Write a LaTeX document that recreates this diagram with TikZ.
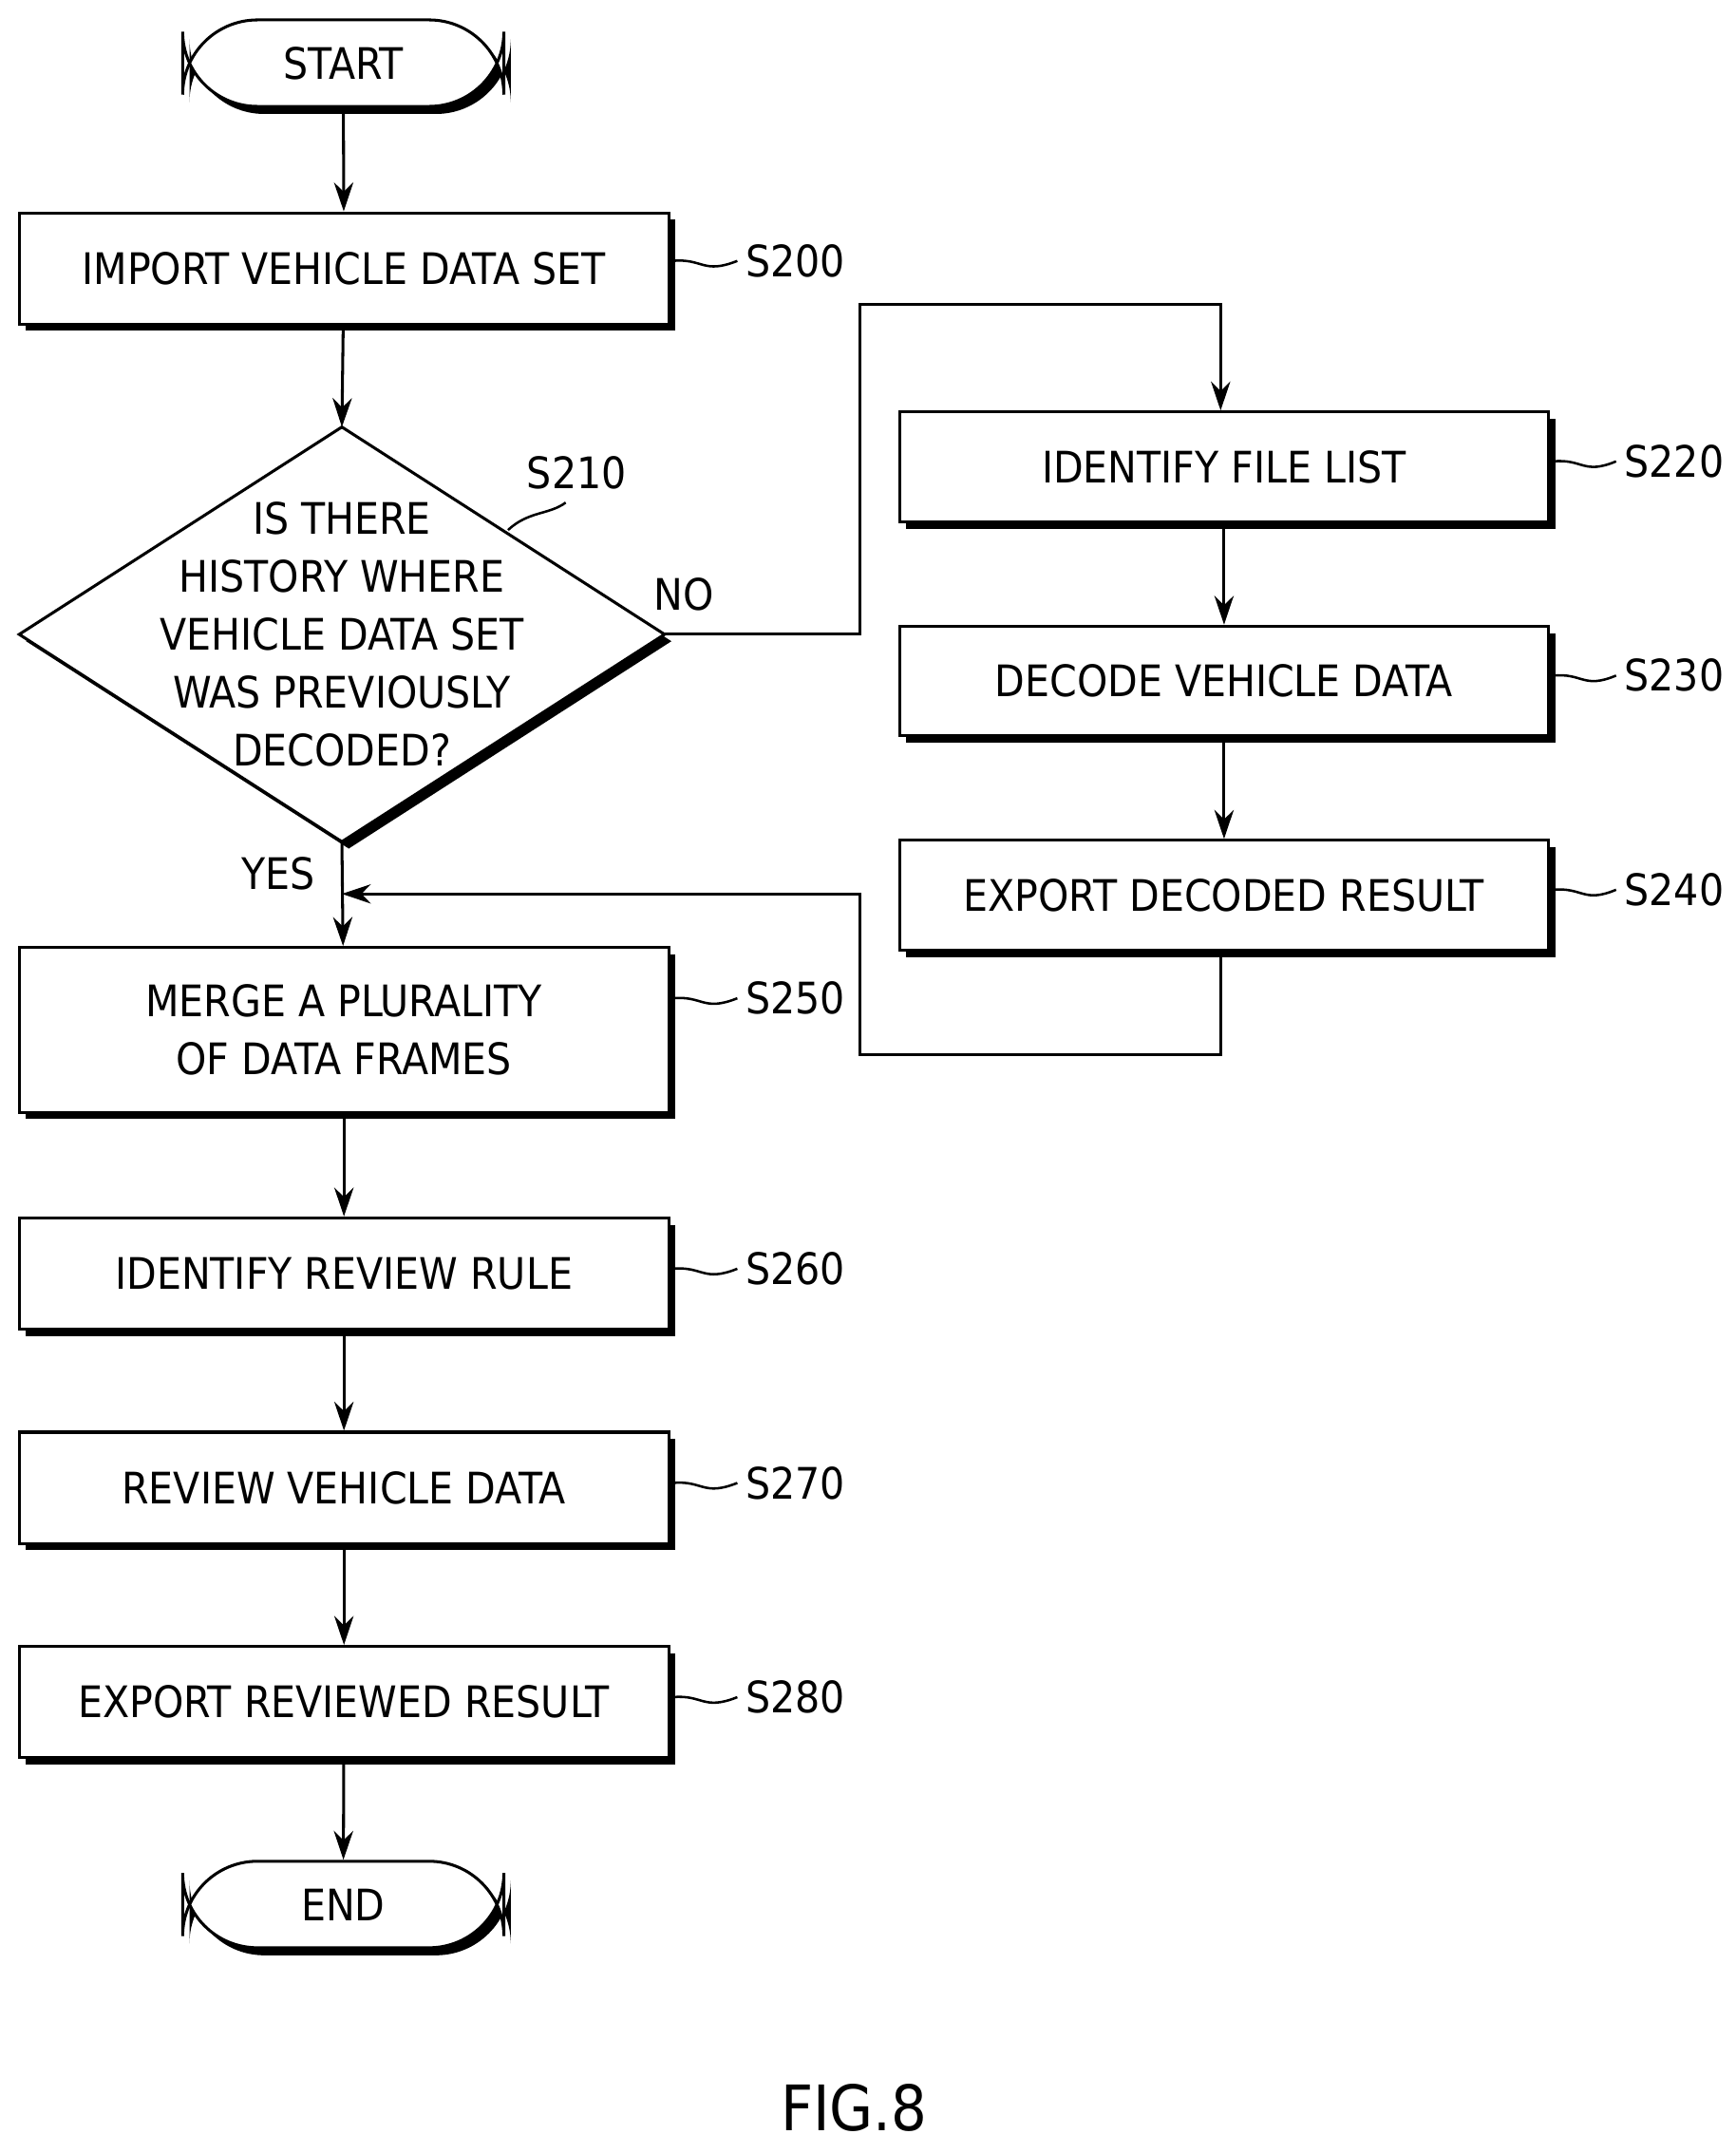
\documentclass[tikz,border=0pt]{standalone}
\usepackage{fontspec}
\setmainfont{DejaVu Sans Condensed}
\usetikzlibrary{shapes.geometric,arrows.meta}
\begin{document}
\begin{tikzpicture}[x=0.02cm,y=-0.02cm,
  font=\fontsize{18}{24}\selectfont,
  box/.style={draw,line width=1.2pt,fill=white,inner sep=0pt,align=center},
  shad/.style={fill=black},
  arr/.style={line width=1.2pt,-{Stealth[length=12pt,width=8pt]}},
  ln/.style={line width=1.2pt},
  lead/.style={line width=1pt}]
\useasboundingbox (0,0) rectangle (1264,1568);
% shadows
\foreach \a/\b/\c/\d in {14/155/487/236,655/300/1128/380,655/456/1128/536,655/612/1128/692,14/690/487/810,14/887/487/968,14/1043/487/1124,14/1199/487/1280}{
  \fill (\a+5,\b+5) rectangle (\c+5,\d+5);}
\fill[rounded corners=31] (138,20) rectangle (372,83);
\fill[rounded corners=31] (138,1361) rectangle (372,1424);
\fill (254,316) -- (489,467) -- (254,618) -- (19,467) -- cycle;
% nodes
\node[box,rounded corners=31,minimum width=4.68cm,minimum height=1.26cm] (start) at (250,46) {START};
\node[box,minimum width=9.46cm,minimum height=1.62cm] (s200) at (250.5,195.5) {IMPORT VEHICLE DATA SET};
\draw[ln,fill=white] (249,311) -- (484,462) -- (249,613) -- (14,462) -- cycle;
\node[align=center] (s210) at (249,462) {IS THERE\\HISTORY WHERE\\VEHICLE DATA SET\\WAS PREVIOUSLY\\DECODED?};
\coordinate (dt) at (249,311); \coordinate (dr) at (484,462); \coordinate (db) at (249,613);
\node[box,minimum width=9.46cm,minimum height=1.6cm] (s220) at (891.5,340) {IDENTIFY FILE LIST};
\node[box,minimum width=9.46cm,minimum height=1.6cm] (s230) at (891.5,496) {DECODE VEHICLE DATA};
\node[box,minimum width=9.46cm,minimum height=1.6cm] (s240) at (891.5,652) {EXPORT DECODED RESULT};
\node[box,minimum width=9.46cm,minimum height=2.4cm] (s250) at (250.5,750) {MERGE A PLURALITY\\OF DATA FRAMES};
\node[box,minimum width=9.46cm,minimum height=1.62cm] (s260) at (250.5,927.5) {IDENTIFY REVIEW RULE};
\node[box,minimum width=9.46cm,minimum height=1.62cm] (s270) at (250.5,1083.5) {REVIEW VEHICLE DATA};
\node[box,minimum width=9.46cm,minimum height=1.62cm] (s280) at (250.5,1239.5) {EXPORT REVIEWED RESULT};
\node[box,rounded corners=31,minimum width=4.68cm,minimum height=1.26cm] (end) at (250,1387) {END};
% connectors
\draw[arr] (start) -- (s200);
\draw[arr] (s200) -- (dt);
\draw[arr] (dr) -- (626,462) -- (626,222) -- (889,222) -- (s220.north -| 889,0);
\draw[arr] (s220) -- (s230);
\draw[arr] (s230) -- (s240);
\coordinate (m) at (249,651);
\draw[arr] (s240.south -| 889,0) -- (889,768) -- (626,768) -- (626,651) -- (m);
\draw[arr] (db) -- (s250);
\draw[arr] (s250) -- (s260);
\draw[arr] (s260) -- (s270);
\draw[arr] (s270) -- (s280);
\draw[arr] (s280) -- (end);
% labels
\node at (203,636) {YES};
\node at (498,433) {NO};
\node (l210) at (420,344) {S210};
\draw[lead] (370,386) .. controls (385,372) and (400,375) .. (412,366);
\foreach \n/\y/\x in {s200/190/490,s250/727/490,s260/924/490,s270/1080/490,s280/1236/490}{
  \node[anchor=west] (l\n) at (537,\y) {\MakeUppercase{\n}};
  \draw[lead] (\x,\y) .. controls (512,\y-2) and (512,\y+10) .. (537,\y);}
\foreach \n/\y in {s220/336,s230/492,s240/648}{
  \node[anchor=west] (l\n) at (1177,\y) {\MakeUppercase{\n}};
  \draw[lead] (1131,\y) .. controls (1153,\y-2) and (1153,\y+10) .. (1177,\y);}
\node[font=\fontsize{26}{30}\selectfont] (fig) at (622,1535) {FIG.8};
\end{tikzpicture}
\end{document}
